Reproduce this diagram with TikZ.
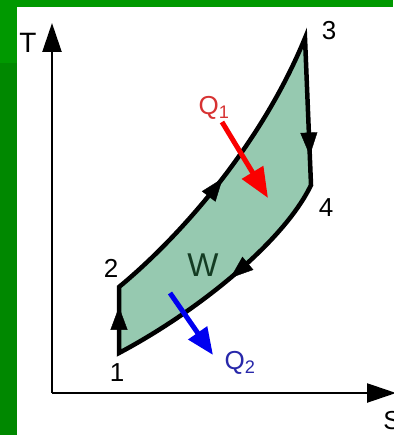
\documentclass[tikz,border=0pt]{standalone}
\usepackage{fontspec}
\setmainfont{Liberation Sans}
\usetikzlibrary{arrows.meta}
\usetikzlibrary{decorations.markings}
\definecolor{bggreen}{RGB}{0,153,0}
\definecolor{bgdark}{RGB}{0,136,0}
\definecolor{cyclefill}{RGB}{150,201,176}
\definecolor{qred}{RGB}{250,0,0}
\definecolor{qredtext}{RGB}{215,50,50}
\definecolor{qblue}{RGB}{0,0,240}
\definecolor{qbluetext}{RGB}{40,40,170}
\definecolor{wgreen}{RGB}{20,60,35}
\tikzset{
  axis/.style={line width=2.4pt,-{Triangle[length=29pt,width=19pt]}},
  cycleline/.style={line width=4.5pt,line join=miter,fill=cyclefill},
  midarrow/.style={postaction={decorate,decoration={markings,
    mark=at position #1 with {\arrow{Triangle[length=23pt,width=17pt]}}}}},
  heatarrow/.style={line width=5pt,-{Triangle[length=30pt,width=24pt]}},
  lbl/.style={font=\fontsize{26}{30}\selectfont,inner sep=0pt}
}
\begin{document}
\begin{tikzpicture}[x=1pt,y=-1pt]
\useasboundingbox (0,0) rectangle (393,435);
\fill[bggreen] (0,0) rectangle (393,435);
\fill[bgdark] (0,63) rectangle (17,435);
\fill[white] (17,7) rectangle (393,435);

\coordinate (O) at (52,393);
\coordinate (Ttip) at (52,23);
\coordinate (Stip) at (396,393);
\draw[axis] (O) -- (Ttip);
\draw[axis] (O) -- (Stip);
\node[lbl,font=\fontsize{28}{32}\selectfont] (T) at (28,43) {T};
\node[lbl] (S) at (392,421) {S};

\coordinate (p1) at (119,353);
\coordinate (p2) at (119,287);
\coordinate (p3) at (305,38);
\coordinate (p4) at (311,185);
\filldraw[cycleline] (p1) -- (p2) .. controls (182,235) and (262,143) .. (p3)
  -- (p4) .. controls (285,240) and (200,310) .. (p1) -- cycle;
\path[midarrow=0.7] (p1) -- (p2);
\path[midarrow=0.48] (p2) .. controls (182,235) and (262,143) .. (p3);
\path[midarrow=0.8] (p3) -- (p4);
\path[midarrow=0.48] (p4) .. controls (285,240) and (200,310) .. (p1);

\node[lbl] (n1) at (117,373) {1};
\node[lbl] (n2) at (111,268) {2};
\node[lbl] (n3) at (329,31) {3};
\node[lbl] (n4) at (326,208) {4};
\node[lbl,font=\fontsize{33}{36}\selectfont,text=wgreen] (W) at (203,265) {W};

\coordinate (q1s) at (222,122);
\coordinate (q1e) at (268,198);
\draw[heatarrow,qred] (q1s) -- (q1e);
\node[lbl,text=qredtext] (Q1) at (214,108) {Q\textsubscript{1}};

\coordinate (q2s) at (170,293);
\coordinate (q2e) at (213,355);
\draw[heatarrow,qblue,-{Triangle[length=27pt,width=22pt]}] (q2s) -- (q2e);
\node[lbl,text=qbluetext] (Q2) at (240,363) {Q\textsubscript{2}};
\end{tikzpicture}
\end{document}
